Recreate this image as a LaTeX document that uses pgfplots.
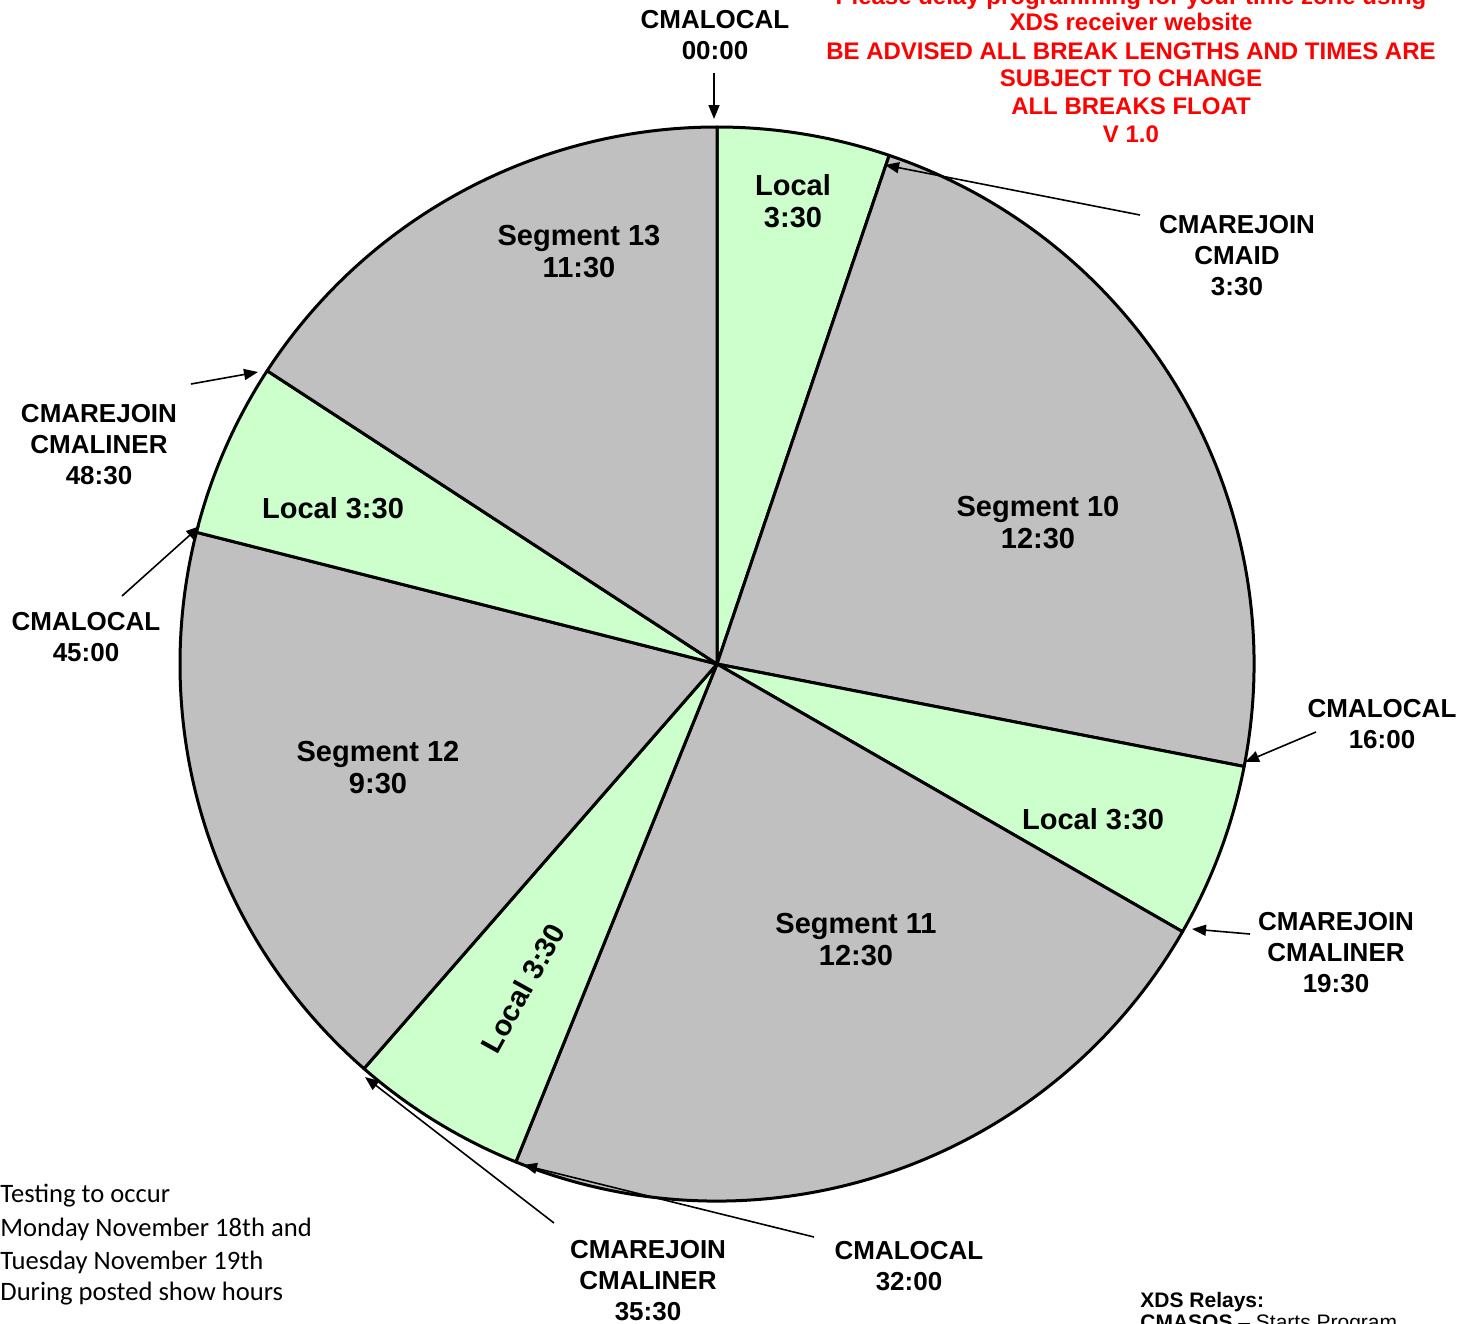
\documentclass[border=0pt]{standalone}
\usepackage{pgfplots}
\pgfplotsset{compat=1.18}
\usepackage{pgfplotstable}
\usepackage{fontspec}
\setmainfont{Liberation Sans}
\newfontfamily\calibri{Carlito}
\usetikzlibrary{arrows.meta}
\definecolor{localgreen}{HTML}{CCFFCC}
\definecolor{seggray}{HTML}{C0C0C0}
\definecolor{warnred}{HTML}{FF0000}

% slice sizes in degrees, clockwise from 12 o'clock
\pgfplotstableread{
slice deg fill
Local1 18.7 localgreen
Seg10 82.3 seggray
Local2 18.9 localgreen
Seg11 82.1 seggray
Local3 19.1 localgreen
Seg12 63.1 seggray
Local4 18.9 localgreen
Seg13 56.9 seggray
}\piedata

\gdef\pieslices{}
\xdef\acc{90}
\pgfplotstableforeachcolumnelement{deg}\of\piedata\as\d{%
  \pgfmathsetmacro\endang{\acc-\d}%
  \pgfplotstablegetelem{\pgfplotstablerow}{fill}\of\piedata
  \xdef\pieslices{\unexpanded\expandafter{\pieslices}%
    \noexpand\filldraw[fill=\pgfplotsretval, draw=black, line width=1.5pt, line join=round]
    (axis cs:717,664) -- ++(\acc:268.5pt) arc[start angle=\acc, end angle=\endang, radius=268.5pt] -- cycle;}%
  \xdef\acc{\endang}%
}

\begin{document}
\begin{tikzpicture}
\begin{axis}[
  x=0.5pt, y=0.5pt,
  xmin=0, xmax=1476, ymin=0, ymax=1323,
  y dir=reverse,
  hide axis, clip=false,
]
\pieslices
\coordinate (BL) at (axis cs:0,1323);
\coordinate (TR) at (axis cs:1476,0);

% slice labels
\begin{scope}[every node/.style={font=\bfseries\fontsize{14.5}{16}\selectfont, align=center, inner sep=0pt}]
\node at (axis cs:793,201) {Local\\3:30};
\node at (axis cs:1038,523) {Segment 10\\12:30};
\node at (axis cs:1093,819) {Local 3:30};
\node at (axis cs:856,940) {Segment 11\\12:30};
\node[rotate=61] at (axis cs:523,988) {Local 3:30};
\node at (axis cs:378,768) {Segment 12\\9:30};
\node at (axis cs:333,508) {Local 3:30};
\node at (axis cs:579,252) {Segment 13\\11:30};
\end{scope}

% outside labels
\begin{scope}[every node/.style={font=\bfseries\fontsize{13}{15.5}\selectfont, align=center, inner sep=0pt}]
\node at (axis cs:715,35) {CMALOCAL\\00:00};
\node at (axis cs:1237,256) {CMAREJOIN\\CMAID\\3:30};
\node at (axis cs:1382,724) {CMALOCAL\\16:00};
\node at (axis cs:1336,953) {CMAREJOIN\\CMALINER\\19:30};
\node at (axis cs:909,1266) {CMALOCAL\\32:00};
\node at (axis cs:648,1281) {CMAREJOIN\\CMALINER\\35:30};
\node at (axis cs:86,637) {CMALOCAL\\45:00};
\node at (axis cs:99,445) {CMAREJOIN\\CMALINER\\48:30};
\end{scope}

% arrows
\begin{scope}[line width=0.8pt, -{Triangle[length=7pt,width=5.5pt]}]
\draw (axis cs:714,73) -- (axis cs:714,119);
\draw (axis cs:1140,215) -- (axis cs:885,165);
\draw (axis cs:1316,732) -- (axis cs:1245,762);
\draw (axis cs:1250,934) -- (axis cs:1192,929);
\draw (axis cs:814,1237) -- (axis cs:523,1165);
\draw (axis cs:554,1223) -- (axis cs:365,1077);
\draw (axis cs:122,596) -- (axis cs:200,526);
\draw (axis cs:191,384) -- (axis cs:258,372);
\end{scope}

% red notice
\begin{scope}[every node/.style={font=\bfseries\fontsize{12}{14}\selectfont, text=warnred, inner sep=0pt}]
\node at (axis cs:1131,-2) {Please delay programming for your time zone using};
\node at (axis cs:1131,22) {XDS receiver website};
\node at (axis cs:1131,51) {BE ADVISED ALL BREAK LENGTHS AND TIMES ARE};
\node at (axis cs:1131,78) {SUBJECT TO CHANGE};
\node at (axis cs:1131,106) {ALL BREAKS FLOAT};
\node at (axis cs:1131,134) {V 1.0};
\end{scope}

% bottom-left note
\begin{scope}[every node/.style={font=\calibri\fontsize{13.3}{16}\selectfont, anchor=west, inner sep=0pt}]
\node at (axis cs:0,1196) {Testing to occur};
\node at (axis cs:0,1229) {Monday November 18th and};
\node at (axis cs:0,1262) {Tuesday November 19th};
\node at (axis cs:0,1294) {During posted show hours};
\end{scope}

% bottom-right relays
\begin{scope}[every node/.style={font=\fontsize{10.5}{12}\selectfont, anchor=west, inner sep=0pt}]
\node at (axis cs:1140,1302) {\textbf{XDS Relays:}};
\node at (axis cs:1140,1324) {\textbf{CMASOS} -- Starts Program};
\end{scope}
\end{axis}
\pgfresetboundingbox
\useasboundingbox (BL) rectangle (TR);
\end{tikzpicture}
\end{document}
